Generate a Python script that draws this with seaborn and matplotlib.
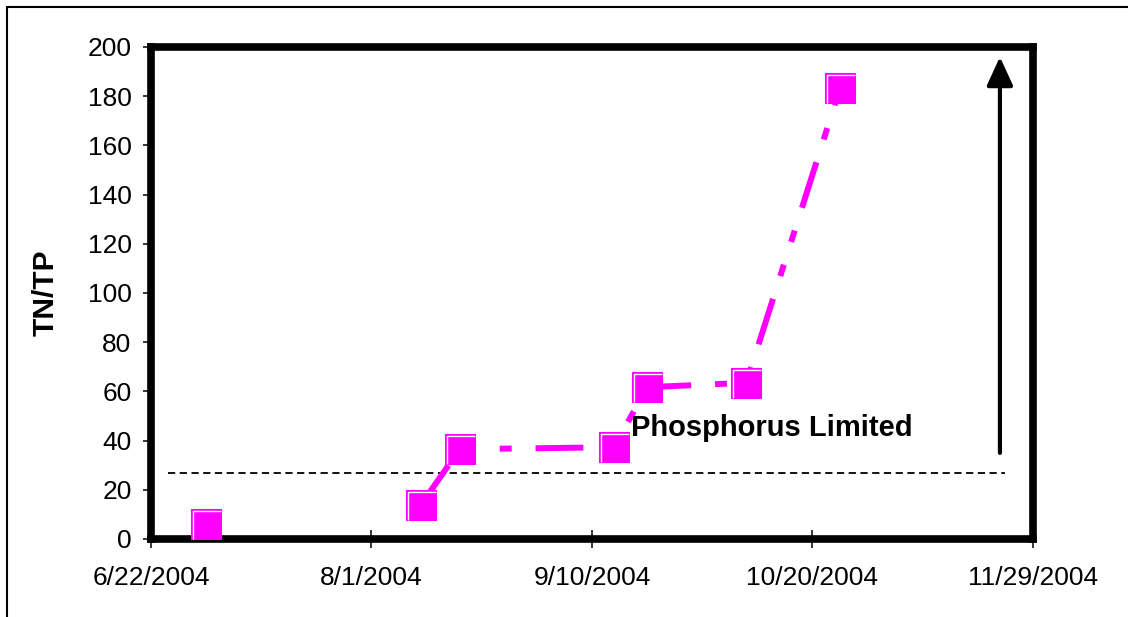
import matplotlib
matplotlib.use('Agg')
import matplotlib.pyplot as plt
from matplotlib.lines import Line2D
from matplotlib.path import Path
import seaborn as sns
import pandas as pd

# 數據
sample_dates = ['2004-07-02', '2004-08-10', '2004-08-17', '2004-09-14',
                '2004-09-20', '2004-10-08', '2004-10-25']
tn_tp = [6, 14, 36.5, 37.3, 61.7, 63.5, 183.4]
connected_from = 1  # 第一個點沒有連線

threshold = 27
tick_dates = ['2004-06-22', '2004-08-01', '2004-09-10', '2004-10-20', '2004-11-29']
tick_labels = ['6/22/2004', '8/1/2004', '9/10/2004', '10/20/2004', '11/29/2004']
y_ticks = list(range(0, 201, 20))
label_text = 'Phosphorus Limited'

df = pd.DataFrame({'date': pd.to_datetime(sample_dates), 'ratio': tn_tp})
tick_dt = pd.to_datetime(tick_dates)

sns.set_style('white')
plt.rcParams['font.family'] = ['Liberation Sans', 'DejaVu Sans']
plt.rcParams['text.color'] = 'black'
plt.rcParams['axes.labelcolor'] = 'black'
plt.rcParams['xtick.color'] = 'black'
plt.rcParams['ytick.color'] = 'black'

fig = plt.figure(figsize=(11.28, 6.17), dpi=100)
ax = fig.add_axes([151 / 1128, 1 - 539 / 617, (1033 - 151) / 1128, (539 - 47) / 617])

magenta = '#FF00FF'

# 虛線門檻
ax.plot([pd.Timestamp('2004-06-25'), pd.Timestamp('2004-11-24')], [threshold, threshold],
        color='black', lw=1.3, linestyle=(0, (4, 2.5)), zorder=2)

# 連線（長虛線-點-點）
sns.lineplot(data=df.iloc[connected_from:], x='date', y='ratio', ax=ax, color=magenta,
             lw=4.3, linestyle=(0, (8, 4, 2, 4, 2, 4)), estimator=None, sort=False, zorder=3)

# 方形標記
ax.plot(df['date'], df['ratio'], linestyle='none', marker='s', markersize=21.3,
        markerfacecolor=magenta, markeredgecolor=magenta, markeredgewidth=0.8, zorder=4)
corner = Path([(-0.84, -0.98), (-0.84, 0.84), (0.98, 0.84)],
              [Path.MOVETO, Path.LINETO, Path.LINETO])
ax.plot(df['date'], df['ratio'], linestyle='none', marker=corner, markersize=21.8,
        markerfacecolor='none', markeredgecolor='white', markeredgewidth=1.0, zorder=5)

# 箭頭
ax.annotate('', xy=(pd.Timestamp('2004-11-23'), 196), xytext=(pd.Timestamp('2004-11-23'), 35),
            arrowprops=dict(arrowstyle='-|>,head_length=1.75,head_width=0.8', color='black',
                            lw=3, shrinkA=0, shrinkB=0, mutation_scale=10), zorder=6)

ax.text(pd.Timestamp('2004-09-17'), 45, label_text, fontsize=21, fontweight='bold',
        ha='left', va='center', zorder=6)

ax.set_xlim(tick_dt[0], tick_dt[-1])
ax.set_ylim(0, 200)
ax.set_xticks(tick_dt)
ax.set_xticklabels(tick_labels)
ax.set_yticks(y_ticks)
ax.tick_params(axis='x', direction='inout', length=13, width=1.1, pad=13, labelsize=19,
               bottom=True)
ax.tick_params(axis='y', direction='out', length=6, width=1.1, pad=8, labelsize=19,
               left=True)
ax.set_xlabel('')
ax.set_ylabel('TN/TP', fontsize=21.5, fontweight='bold', labelpad=20)

for sp in ax.spines.values():
    sp.set_visible(True)
    sp.set_color('black')
    sp.set_linewidth(5.5)
    sp.set_capstyle('projecting')

# 外框（只有上方和左方）
fig.add_artist(Line2D([7 / 1128, 1], [1 - 7 / 617, 1 - 7 / 617], transform=fig.transFigure,
                      color='black', lw=1.5))
fig.add_artist(Line2D([7 / 1128, 7 / 1128], [0, 1 - 7 / 617], transform=fig.transFigure,
                      color='black', lw=1.5))

fig.savefig('out.png', dpi=100)
